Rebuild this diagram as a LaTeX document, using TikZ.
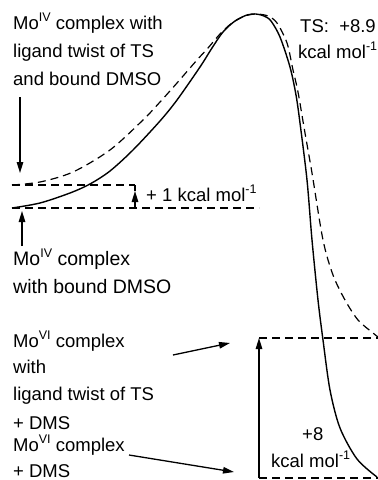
\documentclass[tikz,border=0pt]{standalone}
\usepackage{fontspec}
\setmainfont{Liberation Sans}
\usetikzlibrary{arrows.meta}
\newcommand{\supr}[1]{\raisebox{0.4em}{\fontsize{12.5}{12.5}\selectfont #1}}
\begin{document}
\begin{tikzpicture}[x=1pt,y=-1pt,
  lbl/.style={anchor=base west,inner sep=0pt,font=\fontsize{18.5}{20}\selectfont},
  lblb/.style={anchor=base west,inner sep=0pt,font=\fontsize{19.5}{21}\selectfont},
  lvl/.style={line width=1.3pt,dash pattern=on 8pt off 5pt},
  curve/.style={line width=1.4pt},
  arr/.style={line width=1.3pt,-{Triangle[length=11pt,width=6.5pt]}}]
\useasboundingbox (0,0) rectangle (378,480);
% levels
\draw[lvl] (12,185) -- (135,185);
\draw[lvl] (12,208) -- (259,208);
\draw[lvl] (259,338) -- (378,338);
\draw[lvl] (259,478) -- (378,478);
% curves
\draw[curve] plot[smooth,tension=0.5] coordinates {(12,208) (40,203) (70,193) (90,184) (110,171) (133,150) (160,121) (177,100) (200,67) (212,48) (223,32) (235,21) (247,15) (256,14) (264,16) (271,21) (280,37) (290,67) (296,95) (300,123) (307,180) (312,240) (318,300) (323,340) (330,390) (340,428) (357,459) (377,477)};
\draw[lvl,line width=1.2pt] plot[smooth,tension=0.5] coordinates {(12,185) (40,182) (73,172) (110,150) (143,120) (160,102) (177,83) (197,60) (208,48) (220,34) (232,23) (245,16) (256,14) (268,16) (277,23) (287,43) (293,70) (298,92) (305,133) (312,173) (323,240) (333,275) (345,300) (358,320) (373,333) (378,337)};
% labels
\node[lbl] (t1) at (13,29) {Mo\supr{IV} complex with};
\node[lbl] (t2) at (13,57) {ligand twist of TS};
\node[lbl] (t3) at (13,85) {and bound DMSO};
\node[lblb] (b1) at (13,265) {Mo\supr{IV} complex};
\node[lblb] (b2) at (13,293) {with bound DMSO};
\node[lbl] (c1) at (13,347) {Mo\supr{VI} complex};
\node[lbl] (c2) at (13,373) {with};
\node[lbl] (c3) at (13,400) {ligand twist of TS};
\node[lbl] (c4) at (13,429) {+ DMS};
\node[lbl] (d1) at (13,451) {Mo\supr{VI} complex};
\node[lbl] (d2) at (13,477) {+ DMS};
\node[lbl] (ts1) at (300,32) {TS:\ \ +8.9};
\node[lbl] (ts2) at (298,58) {kcal mol\supr{-1}};
\node[lbl] (one) at (146,201) {+ 1 kcal mol\supr{-1}};
\node[lbl] (e1) at (302,440) {+8};
\node[lbl] (e2) at (271,467) {kcal mol\supr{-1}};
% arrows
\coordinate (a1s) at (20,97);
\coordinate (a1e) at (20,173);
\draw[arr] (a1s) -- (a1e);
\coordinate (a2s) at (22,246);
\coordinate (a2e) at (22,211);
\draw[arr] (a2s) -- (a2e);
\coordinate (a3s) at (173,355);
\coordinate (a3e) at (230,343);
\draw[arr] (a3s) -- (a3e);
\coordinate (a4s) at (129,455);
\coordinate (a4e) at (234,472);
\draw[arr] (a4s) -- (a4e);
\coordinate (a5s) at (259,478);
\coordinate (a5e) at (259,338);
\draw[arr] (a5s) -- (a5e);
\coordinate (a6s) at (135,208);
\coordinate (a6e) at (135,191);
\draw[arr] (a6s) -- (a6e);
\draw[line width=1.3pt] (a6e) -- (135,185);
\end{tikzpicture}
\end{document}
